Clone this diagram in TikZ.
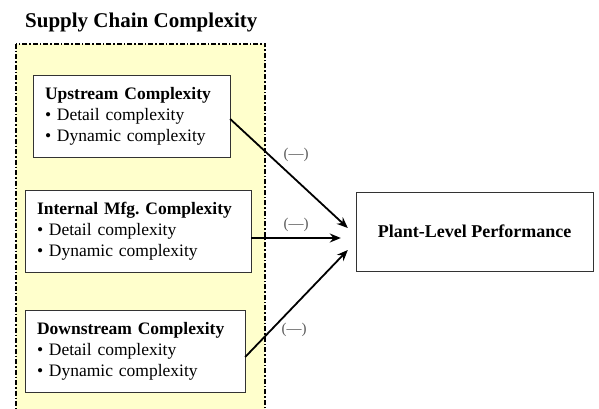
\documentclass[tikz,border=0pt]{standalone}
\usepackage{fontspec}
\setmainfont{Liberation Serif}
\usetikzlibrary{positioning,arrows.meta}
\definecolor{paleyellow}{RGB}{255,255,204}
\tikzstyle{factor} = [draw=black!80, rectangle, fill=white, align=left, inner sep=12pt, minimum height=79pt, anchor=center, font=\fontsize{17.5}{21}\selectfont]
\tikzstyle{outcome} = [draw=black!80, rectangle, fill=white, minimum width=237pt, minimum height=79pt, font=\fontsize{18}{21}\selectfont\bfseries]
\tikzstyle{line} = [draw, line width=1.8pt, -{Stealth[length=11pt,width=9pt]}]
\tikzstyle{sign} = [text=black!65, font=\fontsize{15}{17}\selectfont]

\begin{document}
\begin{tikzpicture}[x=1pt, y=-1pt]
    \useasboundingbox (0,0) rectangle (599,409);
    % Supply chain frame
    \draw [fill=paleyellow, line width=1.4pt, dash pattern=on 5pt off 2pt on 1.5pt off 2pt] (16,44) rectangle (265,420);
    \node [font=\fontsize{21}{24}\selectfont\bfseries, anchor=west, inner sep=0pt] (title) at (25,22) {Supply Chain Complexity};
    % Place nodes
    \node [factor, text width=173pt] (upstream) at (131.5,116.5) {\textbf{Upstream Complexity}\\\textbullet\ Detail complexity\\\textbullet\ Dynamic complexity};
    \node [factor, text width=202pt] (internal) at (138,231.5) {\textbf{Internal Mfg.\ Complexity}\\\textbullet\ Detail complexity\\\textbullet\ Dynamic complexity};
    \node [factor, text width=196pt] (downstream) at (135,351) {\textbf{Downstream Complexity}\\\textbullet\ Detail complexity\\\textbullet\ Dynamic complexity};
    \node [outcome] (plant) at (474.5,231.5) {Plant-Level Performance};
    % Draw edges
    \path [line] ([yshift=-2.5pt]upstream.east) -- ([xshift=-8pt,yshift=3.5pt]plant.west);
    \path [line] ([yshift=-6.5pt]internal.east) -- ([xshift=-15pt,yshift=-6.5pt]plant.west);
    \path [line] ([yshift=-6pt]downstream.east) -- ([xshift=-8pt,yshift=-18.5pt]plant.west);
    % Signs
    \node [sign] (sign-up) at (296,155) {(—)};
    \node [sign] (sign-int) at (296,225) {(—)};
    \node [sign] (sign-down) at (294,330) {(—)};
\end{tikzpicture}
\end{document}
